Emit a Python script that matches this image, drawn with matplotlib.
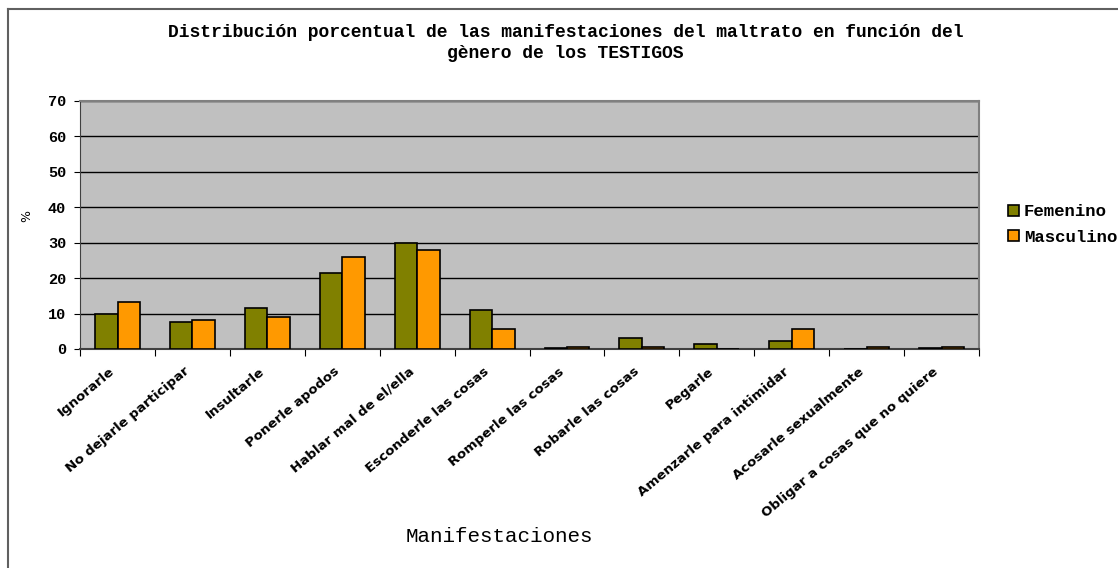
import matplotlib
matplotlib.use("Agg")
import matplotlib.pyplot as plt
import numpy as np
from matplotlib.lines import Line2D

# datos
categorias = ["Ignorarle", "No dejarle participar", "Insultarle", "Ponerle apodos",
              "Hablar mal de el/ella", "Esconderle las cosas", "Romperle las cosas",
              "Robarle las cosas", "Pegarle", "Amenzarle para intimidar",
              "Acosarle sexualmente", "Obligar a cosas que no quiere"]
femenino = [10.0, 7.5, 11.5, 21.5, 30.0, 11.0, 0.3, 3.2, 1.5, 2.3, 0.0, 0.3]
masculino = [13.2, 8.3, 9.1, 26.0, 27.8, 5.5, 0.6, 0.6, 0.0, 5.7, 0.6, 0.6]
yticks = [0, 10, 20, 30, 40, 50, 60, 70]

mono = "Liberation Mono"

fig = plt.figure(figsize=(11.18, 5.68), dpi=100)
ax = fig.add_axes([0.0716, 0.3856, 0.8041, 0.4366])
ax.set_facecolor("#C0C0C0")

x = np.arange(len(categorias))
w = 0.3
ax.bar(x - w/2, femenino, w, color="#808000", edgecolor="black", linewidth=1.2,
       label="Femenino", zorder=3)
ax.bar(x + w/2, masculino, w, color="#FF9900", edgecolor="black", linewidth=1.2,
       label="Masculino", zorder=3)

ax.set_xlim(-0.5, len(categorias) - 0.5)
ax.set_ylim(0, 70)
ax.set_yticks(yticks)
ax.set_yticklabels([str(v) for v in yticks], fontfamily=mono, fontweight="bold", fontsize=11)
ax.yaxis.grid(True, color="black", linewidth=1, zorder=1)
ax.set_axisbelow(True)

# ticks de separacion entre categorias
ax.set_xticks(np.arange(len(categorias) + 1) - 0.5)
ax.set_xticklabels([])
ax.tick_params(axis="x", length=5, color="black")
ax.tick_params(axis="y", length=4, color="black", pad=6)
for i, c in enumerate(categorias):
    ax.text(i - 0.12, -4.5, c, rotation=40, ha="right", va="top", rotation_mode="anchor",
            fontsize=9.6, fontweight="bold", family="DejaVu Sans")

for s in ["top", "right"]:
    ax.spines[s].set_color("#808080")
    ax.spines[s].set_linewidth(1.5)
ax.spines["left"].set_color("#404040")
ax.spines["bottom"].set_color("#404040")
ax.spines["bottom"].set_linewidth(1.5)

fig.text(0.0235, 0.62, "%", fontsize=9, family="DejaVu Sans", rotation=90,
         ha="center", va="center")
fig.text(0.447, 0.055, "Manifestaciones", fontsize=15, family=mono, ha="center", va="center")

fig.text(0.506, 0.942, "Distribución porcentual de las manifestaciones del maltrato en función del",
         fontsize=13, family=mono, fontweight="bold", ha="center", va="center")
fig.text(0.506, 0.905, "gènero de los TESTIGOS",
         fontsize=13, family=mono, fontweight="bold", ha="center", va="center")

leg = fig.legend(loc="center left", bbox_to_anchor=(0.888, 0.605), frameon=False,
                 prop={"family": mono, "weight": "bold", "size": 12.5},
                 handlelength=0.6, handleheight=0.6, handletextpad=0.3, labelspacing=0.6)

# borde del grafico
fig.add_artist(Line2D([0.0075, 0.0075], [0, 0.984], color="#606060", linewidth=1.5,
                      transform=fig.transFigure))
fig.add_artist(Line2D([0.0075, 1], [0.984, 0.984], color="#606060", linewidth=1.5,
                      transform=fig.transFigure))

fig.savefig("out.png", dpi=100)
